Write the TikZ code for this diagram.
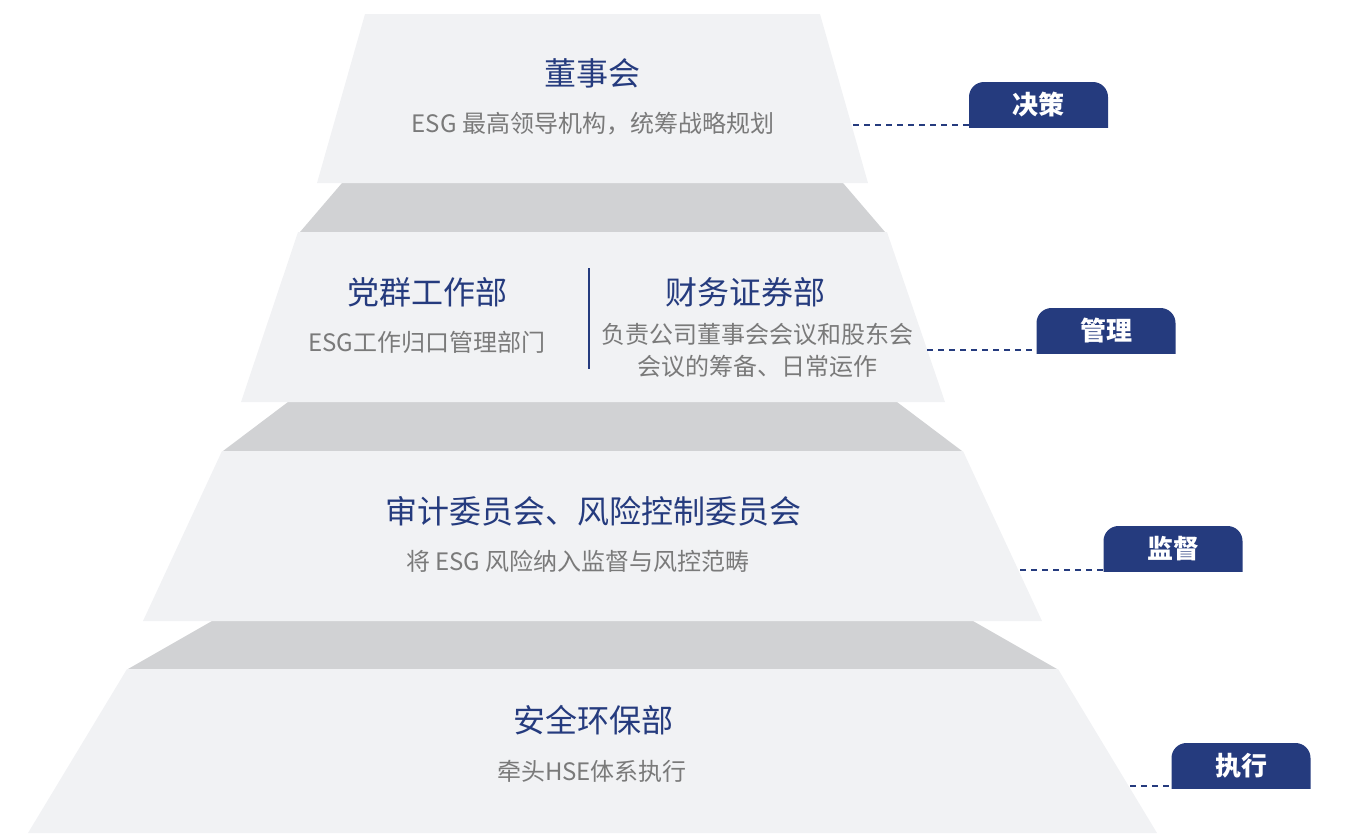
\documentclass[tikz,border=0pt]{standalone}
\usepackage{fontspec}
\setmainfont{Noto Sans CJK SC}
\usetikzlibrary{calc}

\definecolor{tierbg}{HTML}{F1F2F4}
\definecolor{bandbg}{HTML}{D1D2D4}
\definecolor{navy}{HTML}{253B7E}
\definecolor{subgray}{HTML}{7A7A7A}

\tikzset{
  tiertitle/.style={text=navy, inner sep=0pt, font=\fontsize{32}{38}\selectfont},
  tiersub/.style={text=subgray, inner sep=0pt, align=center, font=\fontsize{24}{32}\selectfont},
  tagbox/.style={
    minimum width=139pt, minimum height=45pt, inner sep=0pt,
    text=white, font=\bfseries\fontsize{26}{30}\selectfont,
    path picture={\fill[navy,rounded corners=15pt]
      (path picture bounding box.north west) rectangle
      ([yshift=-20pt]path picture bounding box.south east);}
  },
  dashlink/.style={navy, line width=1.4pt, dash pattern=on 6pt off 5pt},
}

\begin{document}
\begin{tikzpicture}[x=1pt,y=-1pt]
\useasboundingbox (0,0) rectangle (1357,833);

% grey steps between tiers
\fill[bandbg] (342,183) -- (843,183) -- (885,232) -- (300,232) -- cycle;
\fill[bandbg] (288,402) -- (897,402) -- (962,451) -- (223,451) -- cycle;
\fill[bandbg] (212,621) -- (973,621) -- (1057,669) -- (128,669) -- cycle;

% tiers
\fill[tierbg] (365,14) -- (820,14) -- (868,183) -- (317,183) -- cycle;
\fill[tierbg] (298,232) -- (887,232) -- (945,402) -- (241,402) -- cycle;
\fill[tierbg] (222,451) -- (963,451) -- (1042,621) -- (143,621) -- cycle;
\fill[tierbg] (127,669) -- (1058,669) -- (1157,833) -- (28,833) -- cycle;

% tier 1
\node[tiertitle] (t1) at (592,73) {董事会};
\node[tiersub] (t1s) at (593,124) {ESG 最高领导机构，统筹战略规划};

% tier 2
\node[tiertitle] (t2a) at (427,292) {党群工作部};
\node[tiersub] (t2as) at (427,342) {ESG工作归口管理部门};
\draw[navy, line width=2pt] (589,268) -- (589,369);
\node[tiertitle] (t2b) at (745,292) {财务证券部};
\node[tiersub] (t2bs) at (757,350) {负责公司董事会会议和股东会\\会议的筹备、日常运作};

% tier 3
\node[tiertitle] (t3) at (593,511) {审计委员会、风险控制委员会};
\node[tiersub] (t3s) at (578,561) {将 ESG 风险纳入监督与风控范畴};

% tier 4
\node[tiertitle] (t4) at (593,720) {安全环保部};
\node[tiersub] (t4s) at (592,771) {牵头HSE体系执行};

% tags
\node[tagbox] (jc) at (1038.5,104.5) {决策};
\node[tagbox] (gl) at (1106,330.5) {管理};
\node[tagbox] (jd) at (1173,548.5) {监督};
\node[tagbox] (zx) at (1241,765.5) {执行};

% dashed leaders
\coordinate (e1) at (853,125);
\coordinate (e2) at (927,350);
\coordinate (e3) at (1020,570);
\coordinate (e4) at (1130,786);
\draw[dashlink] (e1) -- (e1 -| jc.west);
\draw[dashlink] (e2) -- (e2 -| gl.west);
\draw[dashlink] (e3) -- (e3 -| jd.west);
\draw[dashlink] (e4) -- (e4 -| zx.west);

\end{tikzpicture}
\end{document}
